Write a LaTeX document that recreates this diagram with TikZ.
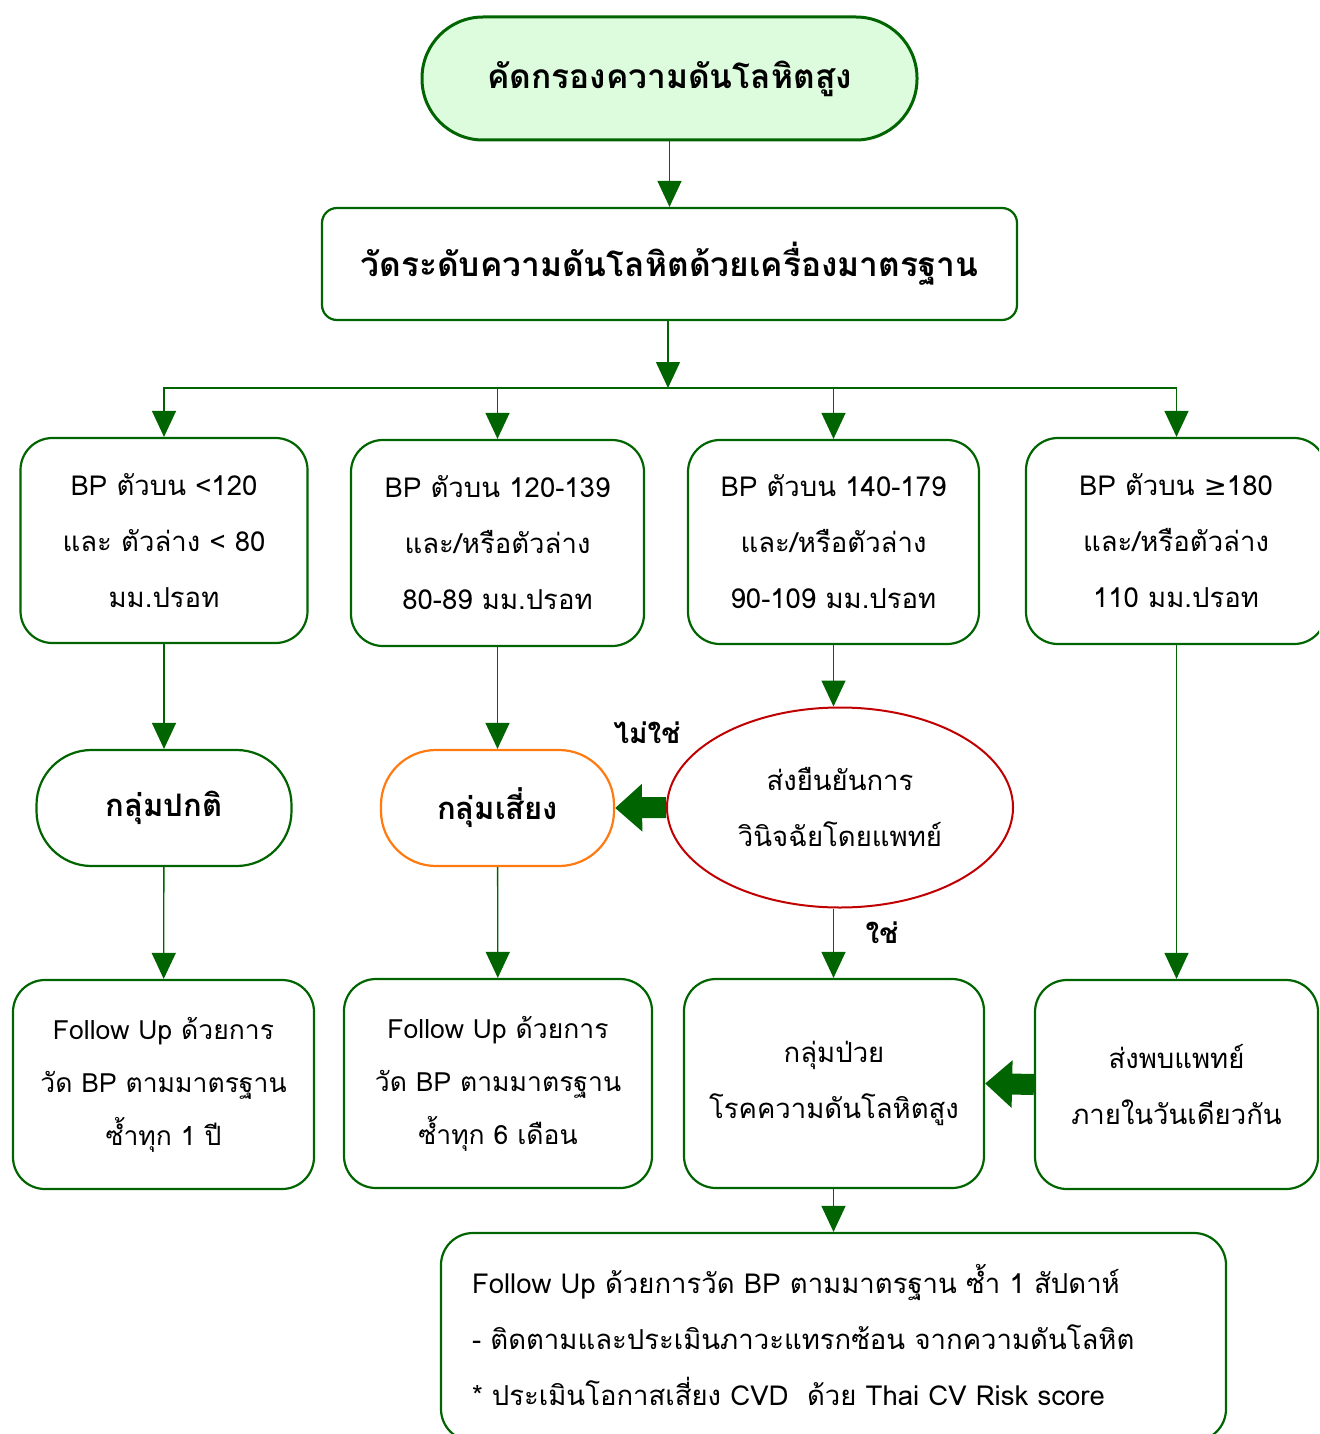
\documentclass[tikz,border=0pt]{standalone}
\usepackage{fontspec}
\setmainfont[Script=Thai]{Loma}
\newfontfamily\symfont{DejaVu Sans}
\usetikzlibrary{arrows.meta,shapes.geometric}
\definecolor{lineg}{HTML}{006400}
\definecolor{fillg}{HTML}{DDFCDD}
\definecolor{orng}{HTML}{FF7A10}
\definecolor{redd}{HTML}{C00000}
\tikzset{
  box/.style={draw=lineg, line width=2.2pt, rounded corners=32pt, align=center,
    inner sep=0pt, font=\fontsize{27.5}{56}\selectfont},
  arr/.style={draw=lineg, line width=1.3pt, -{Triangle[length=26pt,width=24pt]}, color=lineg},
  fat/.style={draw=lineg, line width=21pt, -{Triangle[length=27pt,width=46pt]}, color=lineg},
  lbl/.style={font=\bfseries\fontsize{28}{30}\selectfont},
  grp/.style={box, rounded corners=55pt, minimum height=116pt, font=\bfseries\fontsize{31}{40}\selectfont},
}
\begin{document}
\begin{tikzpicture}[x=1pt,y=-1pt]
\useasboundingbox (0,0) rectangle (1319,1434);
\clip (0,0) rectangle (1319,1434);

% start and measurement
\node[box, fill=fillg, rounded corners=61pt, line width=3pt, minimum width=495pt, minimum height=123pt,
  font=\bfseries\fontsize{33.5}{40}\selectfont] (top) at (669.5,78.5) {คัดกรองความดันโลหิตสูง};
\node[box, rounded corners=15pt, minimum width=695pt, minimum height=112pt,
  font=\bfseries\fontsize{33.5}{40}\selectfont] (meas) at (669.5,264) {\raisebox{3pt}{วัดระดับความดันโลหิตด้วยเครื่องมาตรฐาน}};
\coordinate (split) at (668,388);

% blood pressure ranges
\node[box, minimum width=287pt, minimum height=205pt] (b1) at (164,540.5)
  {BP ตัวบน <120\\และ ตัวล่าง < 80\\มม.ปรอท};
\node[box, minimum width=293pt, minimum height=206pt] (b2) at (497.5,543)
  {BP ตัวบน 120-139\\และ/หรือตัวล่าง\\80-89 มม.ปรอท};
\node[box, minimum width=291pt, minimum height=204pt] (b3) at (833.5,542)
  {BP ตัวบน 140-179\\และ/หรือตัวล่าง\\90-109 มม.ปรอท};
\node[box, minimum width=300pt, minimum height=206pt] (b4) at (1176,541)
  {BP ตัวบน {\symfont ≥}180\\และ/หรือตัวล่าง\\110 มม.ปรอท};

% groups
\node[grp, minimum width=255pt] (g1) at (164,808) {กลุ่มปกติ};
\node[grp, draw=orng, minimum width=233pt] (g2) at (497.5,808) {กลุ่มเสี่ยง};
\node[ellipse, draw=redd, line width=2pt, minimum width=346pt, minimum height=200pt, inner sep=0pt,
  align=center, font=\fontsize{27.5}{56}\selectfont] (ell) at (840,807.5)
  {ส่งยืนยันการ\\วินิจฉัยโดยแพทย์};

% follow-up boxes
\node[box, minimum width=301pt, minimum height=209pt, font=\fontsize{26.5}{53}\selectfont] (f1) at (163.5,1084.5)
  {Follow Up ด้วยการ\\วัด BP ตามมาตรฐาน\\ซ้ำทุก 1 ปี};
\node[box, minimum width=308pt, minimum height=209pt, font=\fontsize{26.5}{53}\selectfont] (f2) at (498,1083.5)
  {Follow Up ด้วยการ\\วัด BP ตามมาตรฐาน\\ซ้ำทุก 6 เดือน};
\node[box, minimum width=300pt, minimum height=209pt] (f3) at (834,1083.5)
  {กลุ่มป่วย\\โรคความดันโลหิตสูง};
\node[box, minimum width=283pt, minimum height=209pt] (f4) at (1176.5,1084.5)
  {ส่งพบแพทย์\\ภายในวันเดียวกัน};
\node[box, minimum width=785pt, minimum height=208pt, align=left] (last) at (833.5,1337)
  {\raisebox{4pt}{\makebox[723pt][l]{Follow Up ด้วยการวัด BP ตามมาตรฐาน ซ้ำ 1 สัปดาห์}}\\
   \raisebox{4pt}{- ติดตามและประเมินภาวะแทรกซ้อน จากความดันโลหิต}\\
   \raisebox{4pt}{* ประเมินโอกาสเสี่ยง CVD\ \ ด้วย Thai CV Risk score}};

% connectors
\draw[arr] (top) -- (meas);
\draw[arr] (meas.south -| split) -- (split);
\draw[arr] (split) -| (b1.north);
\draw[arr] (split) -| (b2.north);
\draw[arr] (split) -| (b3.north);
\draw[arr] (split) -| (b4.north -| f4);
\draw[arr] (b1) -- (g1);
\draw[arr] (g1) -- (f1);
\draw[arr] (b2) -- (g2);
\draw[arr] (g2) -- (f2);
\draw[arr] (b3.south) -- (b3.south |- ell.north);
\draw[arr] (ell.south -| b3) -- (f3.north -| b3);
\draw[arr] (b4.south -| f4) -- (f4.north);
\draw[arr] (f3.south -| b3) -- (last.north -| b3);
\draw[fat] (ell.west) -- (g2.east);
\draw[fat] (f4.west) -- (f3.east);

\node[lbl] (no) at (647,733) {ไม่ใช่};
\node[lbl] (yes) at (882,933) {ใช่};
\end{tikzpicture}
\end{document}
